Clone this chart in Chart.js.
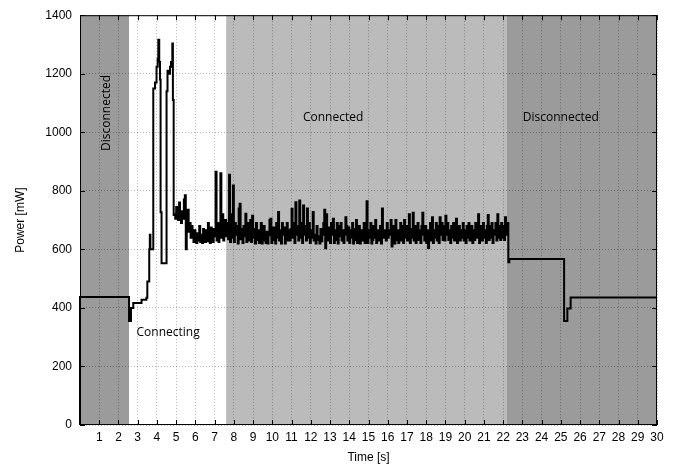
<!DOCTYPE html>
<html>
<head>
<meta charset="utf-8">
<script src="https://cdn.jsdelivr.net/npm/chart.js@4.4.0/dist/chart.umd.min.js"></script>
<style>
body { margin: 0; background: #fff; }
#chart { display: block; }
</style>
</head>
<body>
<canvas id="chart" width="676" height="468"></canvas>
<script>
// connection phases in seconds
const phaseStarts = [0, 2.55, 7.6, 22.2];
const phaseEnds = [2.55, 7.6, 22.2, 30];
const phaseColors = ["#9b9b9b", "#ffffff", "#bbbbbb", "#9b9b9b"];

// start-up, irregular steps (s / mW)
const stepTimes = [0, 0, 2.55, 2.65, 2.77, 3.2, 3.45, 3.5, 3.6, 3.63, 3.66, 3.81, 3.9, 3.98,
    4.04, 4.07, 4.12, 4.16, 4.19, 4.24, 4.5, 4.55, 4.64, 4.68, 4.73, 4.8, 4.83, 4.87];
const stepPower = [0, 437, 355, 400, 417, 428, 435, 490, 600, 650, 600, 1150, 1170, 1224,
    1250, 1316, 1240, 1180, 727, 553, 1140, 1210, 1200, 1224, 1240, 1303, 1110, 717];

// connected phase, one reading every 50 ms from 4.90 s
const noiseStart = 4.9;
const noiseStep = 0.05;
const noisePower = [
    720, 705, 745, 710, 700, 760, 715, 690, 730, 705, 770, 785, 600, 700, 735, 660, 690, 640, 680, 650,
    625, 665, 640, 622, 655, 630, 680, 625, 650, 622, 670, 640, 625, 665, 628, 690, 640, 622, 675, 645,
    625, 670, 645, 865, 630, 690, 625, 680, 860, 640, 720, 630, 670, 700, 645, 690, 635, 855, 625, 720,
    640, 818, 625, 690, 650, 680, 620, 740, 756, 635, 670, 622, 680, 645, 722, 625, 690, 650, 630, 700,
    625, 715, 640, 670, 620, 690, 632, 665, 622, 650, 690, 620, 645, 680, 630, 622, 660, 620, 648, 700,
    705, 622, 650, 675, 632, 620, 690, 640, 728, 630, 665, 620, 690, 650, 675, 620, 640, 690, 630, 665,
    630, 670, 739, 640, 690, 622, 761, 650, 680, 630, 767, 640, 690, 622, 750, 650, 680, 630, 740, 640,
    690, 622, 665, 640, 728, 630, 650, 620, 680, 632, 645, 620, 670, 628, 650, 690, 735, 604, 720, 640,
    630, 675, 622, 690, 650, 705, 622, 665, 632, 690, 620, 680, 645, 690, 630, 665, 622, 650, 710, 680,
    630, 675, 622, 665, 640, 690, 620, 670, 632, 700, 622, 650, 680, 620, 640, 665, 630, 690, 622, 650,
    764, 622, 665, 640, 690, 620, 632, 680, 640, 700, 622, 665, 630, 650, 680, 620, 740, 640, 665, 650,
    630, 690, 640, 665, 650, 700, 610, 650, 680, 620, 700, 632, 665, 622, 650, 690, 630, 680, 622, 700,
    640, 680, 630, 650, 720, 622, 670, 640, 725, 630, 680, 622, 650, 690, 632, 665, 622, 680, 725, 650,
    630, 680, 622, 665, 605, 650, 690, 630, 710, 622, 665, 640, 690, 630, 680, 622, 710, 650, 690, 632,
    680, 630, 715, 650, 690, 632, 665, 622, 680, 640, 690, 630, 670, 705, 622, 650, 680, 630, 665, 640,
    690, 630, 665, 622, 680, 640, 690, 630, 650, 680, 622, 665, 632, 690, 640, 680, 720, 622, 650, 680,
    630, 690, 640, 665, 622, 680, 717, 632, 680, 640, 690, 622, 665, 650, 690, 630, 720, 640, 680, 632,
    690, 640, 680, 632, 710, 650, 690
];

// disconnect
const tailTimes = [22.27, 22.32, 25.17, 25.34, 25.51, 30];
const tailPower = [556, 567, 355, 398, 436, 436];

const points = [];
stepTimes.forEach((t, i) => points.push({ x: t, y: stepPower[i] }));
noisePower.forEach((p, i) => points.push({ x: +(noiseStart + i * noiseStep).toFixed(2), y: p }));
tailTimes.forEach((t, i) => points.push({ x: t, y: tailPower[i] }));

const tickFont = { family: "'Liberation Sans', Arial, sans-serif", size: 12 };
const gridColor = "rgba(0, 0, 0, 0.3)";

const phasePlugin = {
    id: "phases",
    beforeDraw(chart) {
        const { ctx, chartArea: a, scales: { x } } = chart;
        ctx.save();
        phaseStarts.forEach((s, i) => {
            const x0 = x.getPixelForValue(s);
            const x1 = x.getPixelForValue(phaseEnds[i]);
            ctx.fillStyle = phaseColors[i];
            ctx.fillRect(x0, a.top, x1 - x0, a.height);
        });
        ctx.restore();
    },
    afterDraw(chart) {
        const { ctx, chartArea: a, scales: { x, y } } = chart;
        ctx.save();
        ctx.strokeStyle = "#000";
        ctx.lineWidth = 1;
        ctx.beginPath();
        x.ticks.forEach(t => {
            const px = Math.round(x.getPixelForValue(t.value)) + 0.5;
            ctx.moveTo(px, a.bottom); ctx.lineTo(px, a.bottom - 5);
            ctx.moveTo(px, a.top); ctx.lineTo(px, a.top + 5);
        });
        y.ticks.forEach(t => {
            const py = Math.round(y.getPixelForValue(t.value)) + 0.5;
            ctx.moveTo(a.left, py); ctx.lineTo(a.left + 5, py);
            ctx.moveTo(a.right, py); ctx.lineTo(a.right - 5, py);
        });
        ctx.stroke();
        ctx.strokeRect(a.left + 0.5, a.top + 0.5, a.width - 1, a.height - 1);

        // phase names
        ctx.fillStyle = "#000";
        ctx.font = "12px 'Open Sans', 'Noto Sans', sans-serif";
        ctx.textAlign = "center";
        ctx.textBaseline = "middle";
        const labels = [
            ["Connecting", 4.58, 315, false],
            ["Connected", 13.16, 1049, false],
            ["Disconnected", 25.0, 1049, false],
            ["Disconnected", 1.4, 1066, true]
        ];
        labels.forEach(([txt, tx, ty, rot]) => {
            const px = x.getPixelForValue(tx);
            const py = y.getPixelForValue(ty);
            if (rot) {
                ctx.save();
                ctx.translate(px, py);
                ctx.rotate(-Math.PI / 2);
                ctx.fillText(txt, 0, 0);
                ctx.restore();
            } else {
                ctx.fillText(txt, px, py);
            }
        });
        ctx.restore();
    }
};

new Chart(document.getElementById("chart"), {
    type: "line",
    data: {
        datasets: [{
            data: points,
            borderColor: "#000",
            borderWidth: 2,
            pointRadius: 0,
            stepped: true,
            fill: false,
            clip: 2
        }]
    },
    options: {
        responsive: false,
        animation: false,
        layout: { padding: { top: 11, right: 19, left: 0, bottom: 0 } },
        plugins: {
            legend: { display: false },
            tooltip: { enabled: false }
        },
        scales: {
            x: {
                type: "linear",
                min: 0,
                max: 30,
                ticks: {
                    stepSize: 1,
                    autoSkip: false,
                    maxRotation: 0,
                    padding: 5,
                    color: "#000",
                    font: tickFont,
                    callback: v => v === 0 ? "" : String(v)
                },
                grid: { color: gridColor, drawTicks: false },
                border: { display: false, dash: [1, 2] },
                title: { display: true, text: "Time [s]", color: "#000", font: tickFont, padding: { top: 0, bottom: 3 } },
                afterFit: s => { s.height = 43; }
            },
            y: {
                min: 0,
                max: 1400,
                ticks: {
                    stepSize: 200,
                    padding: 8,
                    color: "#000",
                    font: tickFont,
                    callback: v => String(v)
                },
                grid: { color: gridColor, drawTicks: false },
                border: { display: false, dash: [1, 2] },
                title: { display: true, text: "Power [mW]", color: "#000", font: tickFont, padding: { top: 13, bottom: 0 } },
                afterFit: s => { s.width = 80; }
            }
        }
    },
    plugins: [phasePlugin]
});
</script>
</body>
</html>
